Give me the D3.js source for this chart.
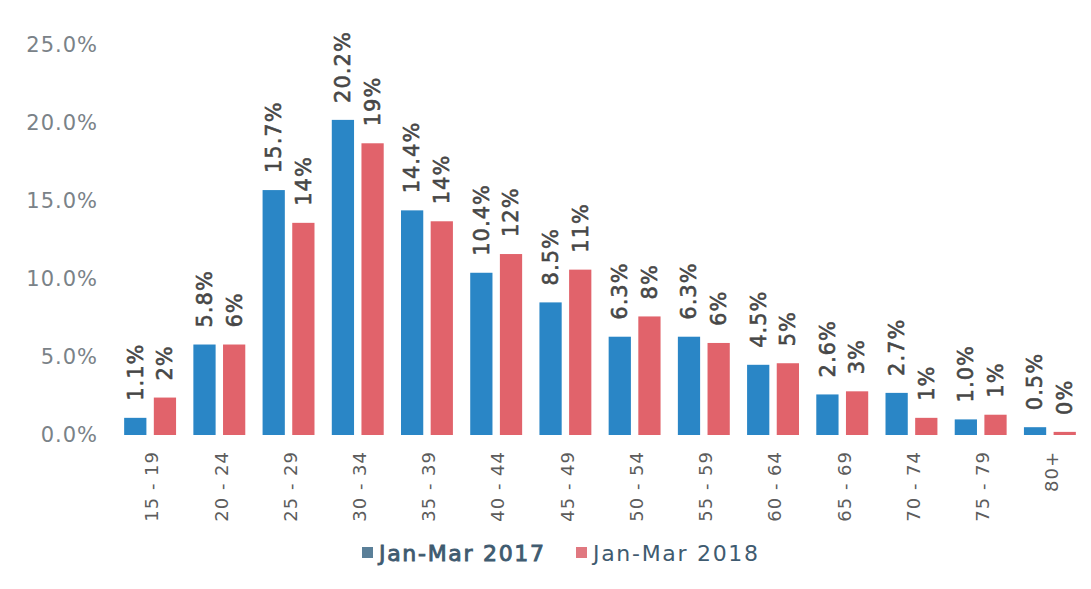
<!DOCTYPE html>
<html>
<head>
<meta charset="utf-8">
<script src="https://cdn.jsdelivr.net/npm/d3@7"></script>
<style>
  body { margin: 0; background: #fff; }
  text { font-family: "DejaVu Sans", Verdana, sans-serif; }
</style>
</head>
<body>
<div id="chart"></div>
<script>
// age groups and shares (percent of total)
var ageGroups = ["15 - 19", "20 - 24", "25 - 29", "30 - 34", "35 - 39", "40 - 44", "45 - 49",
                 "50 - 54", "55 - 59", "60 - 64", "65 - 69", "70 - 74", "75 - 79", "80+"];
var share2017 = [1.1, 5.8, 15.7, 20.2, 14.4, 10.4, 8.5, 6.3, 6.3, 4.5, 2.6, 2.7, 1.0, 0.5];
var share2018 = [2.4, 5.8, 13.6, 18.7, 13.7, 11.6, 10.6, 7.6, 5.9, 4.6, 2.8, 1.1, 1.3, 0.2];
var seriesNames = ["Jan-Mar 2017", "Jan-Mar 2018"];
var yTicks = [0, 5, 10, 15, 20, 25];

var width = 1091, height = 589;
var colors = {"Jan-Mar 2017": "#2a86c6", "Jan-Mar 2018": "#e1636b"};
var legendColors = {"Jan-Mar 2017": "#5a7f98", "Jan-Mar 2018": "#e07880"};
var labelFormat = {"Jan-Mar 2017": d3.format(".1f"), "Jan-Mar 2018": d3.format(".0f")};

var data = ageGroups.map(function(g, i) {
  return {group: g, values: [
    {series: seriesNames[0], value: share2017[i]},
    {series: seriesNames[1], value: share2018[i]}
  ]};
});

var svg = d3.select("#chart").append("svg")
  .attr("width", width)
  .attr("height", height);

var x0 = d3.scaleBand()
  .domain(ageGroups)
  .range([115.5, 1084.5])
  .paddingInner(0.25)
  .paddingOuter(0.125);

var x1 = d3.scaleBand()
  .domain(seriesNames)
  .range([0, x0.bandwidth()])
  .paddingInner(0.25);

var y = d3.scaleLinear()
  .domain([0, 25])
  .range([435, 45]);

// y axis labels only, no lines
svg.append("g")
  .selectAll("text")
  .data(yTicks)
  .enter().append("text")
    .attr("x", 98)
    .attr("y", function(d) { return y(d); })
    .attr("dy", "0.35em")
    .attr("text-anchor", "end")
    .attr("fill", "#7a8288")
    .style("font-size", "21px")
    .style("letter-spacing", "1px")
    .text(function(d) { return d3.format(".1f")(d) + "%"; });

var group = svg.append("g")
  .selectAll("g")
  .data(data)
  .enter().append("g")
    .attr("transform", function(d) { return "translate(" + x0(d.group) + ",0)"; });

group.selectAll("rect")
  .data(function(d) { return d.values; })
  .enter().append("rect")
    .attr("x", function(d) { return x1(d.series); })
    .attr("y", function(d) { return y(d.value); })
    .attr("width", x1.bandwidth())
    .attr("height", function(d) { return y(0) - y(d.value); })
    .attr("fill", function(d) { return colors[d.series]; });

// value labels, rotated above bars (thin stroke gives a semi-bold look)
group.selectAll("text.value")
  .data(function(d) { return d.values; })
  .enter().append("text")
    .attr("class", "value")
    .attr("transform", function(d) {
      return "translate(" + (x1(d.series) + x1.bandwidth() / 2) + "," + (y(d.value) - 17) + ") rotate(-90)";
    })
    .attr("dy", "0.35em")
    .attr("fill", "#474747")
    .attr("stroke", "#474747")
    .attr("stroke-width", 0.6)
    .style("font-size", "21px")
    .style("letter-spacing", "1px")
    .text(function(d) { return labelFormat[d.series](d.value) + "%"; });

// category labels
svg.append("g")
  .selectAll("text")
  .data(ageGroups)
  .enter().append("text")
    .attr("transform", function(d) {
      return "translate(" + (x0(d) + x0.bandwidth() / 2 + 2) + ",451) rotate(-90)";
    })
    .attr("dy", "0.35em")
    .attr("text-anchor", "end")
    .attr("fill", "#5c5c5c")
    .style("font-size", "18px")
    .style("letter-spacing", "1px")
    .text(function(d) { return d; });

// legend
var legend = svg.append("g").attr("transform", "translate(362,553)");
var legendX = [0, 214];
seriesNames.forEach(function(s, i) {
  var item = legend.append("g").attr("transform", "translate(" + legendX[i] + ",0)");
  item.append("rect")
    .attr("x", 0).attr("y", -6)
    .attr("width", 11).attr("height", 11)
    .attr("fill", legendColors[s]);
  item.append("text")
    .attr("x", 17)
    .attr("dy", "0.35em")
    .attr("fill", "#3f5b70")
    .attr("stroke", "#3f5b70")
    .attr("stroke-width", i === 0 ? 0.9 : 0)
    .style("font-size", "22px")
    .style("letter-spacing", "1.7px")
    .text(s);
});
</script>
</body>
</html>
